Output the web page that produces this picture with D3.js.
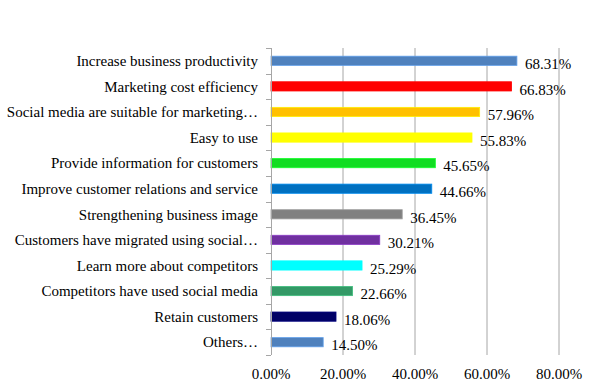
<!DOCTYPE html>
<html>
<head>
<meta charset="utf-8">
<script src="https://cdn.jsdelivr.net/npm/d3@7"></script>
<style>
  html, body { margin: 0; padding: 0; background: #fff; overflow: hidden; }
  svg { display: block; }
</style>
</head>
<body>
<div id="chart"></div>
<script>
// Data
const categories = [
  "Increase business productivity",
  "Marketing cost efficiency",
  "Social media are suitable for marketing…",
  "Easy to use",
  "Provide information for customers",
  "Improve customer relations and service",
  "Strengthening business image",
  "Customers have migrated using social…",
  "Learn more about competitors",
  "Competitors have used social media",
  "Retain customers",
  "Others…"
];
const values = [68.31, 66.83, 57.96, 55.83, 45.65, 44.66, 36.45, 30.21, 25.29, 22.66, 18.06, 14.50];
const barColors = [
  "#4F81BD", "#FF0000", "#FFC000", "#FFFF00", "#11DD22", "#0070C0",
  "#808080", "#7030A0", "#00FFFF", "#339966", "#000066", "#4F81BD"
];
const xTicks = [0, 20, 40, 60, 80];

// Dimensions
const width = 594;
const height = 385;
const margin = {top: 48, right: 35, bottom: 30, left: 271};
const innerWidth = width - margin.left - margin.right;
const innerHeight = height - margin.top - margin.bottom;
const fontFamily = "'Liberation Serif', 'Times New Roman', 'DejaVu Serif', serif";

const svg = d3.select("#chart")
  .append("svg")
    .attr("width", width)
    .attr("height", height)
    .attr("font-family", fontFamily);

const innerChart = svg
  .append("g")
    .attr("transform", `translate(${margin.left}, ${margin.top})`);

// Scales
const xScale = d3.scaleLinear()
  .domain([0, 80])
  .range([0, innerWidth]);

const yScale = d3.scaleBand()
  .domain(categories)
  .range([0, innerHeight])
  .paddingInner(0.64)
  .paddingOuter(0.32);

// gridlines
innerChart
  .selectAll(".grid")
  .data(xTicks.slice(1))
  .join("line")
    .attr("class", "grid")
    .attr("x1", d => xScale(d))
    .attr("x2", d => xScale(d))
    .attr("y1", 0)
    .attr("y2", innerHeight)
    .attr("stroke", "#a6a6a6")
    .attr("stroke-width", 1);

// y category ticks (at band boundaries)
innerChart
  .selectAll(".ytick")
  .data(d3.range(categories.length + 1))
  .join("line")
    .attr("class", "ytick")
    .attr("x1", -5)
    .attr("x2", 0)
    .attr("y1", i => Math.round(i * innerHeight / categories.length) + 0.5)
    .attr("y2", i => Math.round(i * innerHeight / categories.length) + 0.5)
    .attr("stroke", "#a6a6a6");

// bars
innerChart
  .selectAll(".bar")
  .data(values)
  .join("rect")
    .attr("class", "bar")
    .attr("x", 0)
    .attr("y", (d, i) => yScale(categories[i]))
    .attr("width", d => xScale(d))
    .attr("height", yScale.bandwidth())
    .attr("fill", (d, i) => barColors[i])
    .attr("stroke", (d, i) => d3.color(barColors[i]).brighter(0.6))
    .attr("stroke-width", 0.8);

// axis line at 0
innerChart
  .append("line")
    .attr("x1", 0.5)
    .attr("x2", 0.5)
    .attr("y1", 0)
    .attr("y2", innerHeight)
    .attr("stroke", "#a6a6a6");

// category labels
innerChart
  .selectAll(".cat-label")
  .data(categories)
  .join("text")
    .attr("class", "cat-label")
    .attr("x", -13)
    .attr("y", d => yScale(d) + yScale.bandwidth() / 2)
    .attr("dy", "0.35em")
    .attr("text-anchor", "end")
    .attr("font-size", 15)
    .text(d => d);

// value labels
innerChart
  .selectAll(".val-label")
  .data(values)
  .join("text")
    .attr("class", "val-label")
    .attr("x", d => xScale(d) + 8)
    .attr("y", (d, i) => yScale(categories[i]) + yScale.bandwidth() / 2 + 3)
    .attr("dy", "0.35em")
    .attr("font-size", 15)
    .text(d => d.toFixed(2) + "%");

// x-axis labels
innerChart
  .selectAll(".x-label")
  .data(xTicks)
  .join("text")
    .attr("class", "x-label")
    .attr("x", d => xScale(d))
    .attr("y", innerHeight + 19)
    .attr("dy", "0.35em")
    .attr("text-anchor", "middle")
    .attr("font-size", 15)
    .text(d => d.toFixed(2) + "%");
</script>
</body>
</html>
